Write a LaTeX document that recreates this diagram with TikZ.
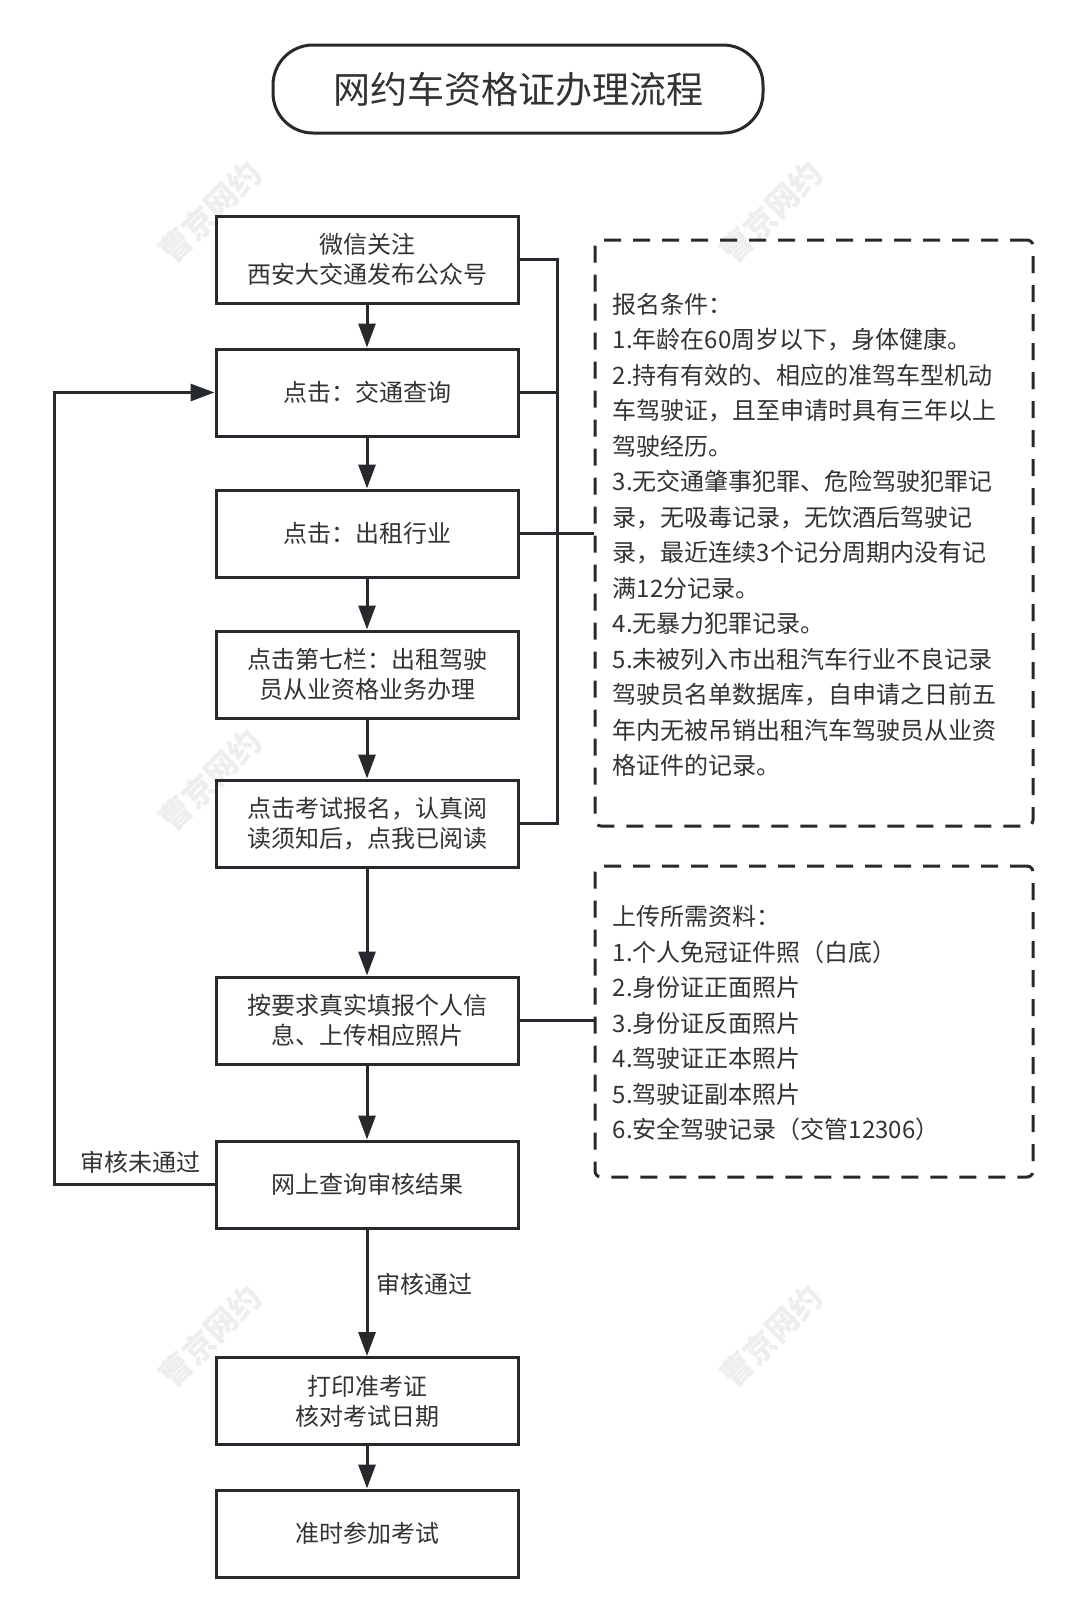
\documentclass[tikz,border=0pt]{standalone}
\usepackage{fontspec}
\setmainfont{Noto Sans CJK SC}
\usetikzlibrary{arrows.meta}
\definecolor{ln}{HTML}{262A2E}
\definecolor{tx}{HTML}{333333}
\begin{document}
\begin{tikzpicture}[x=0.5pt,y=-0.5pt,
  box/.style={draw=ln, line width=1.5pt, minimum width=151pt, minimum height=43.5pt, inner sep=0pt, align=center, text=tx, font=\fontsize{12}{15}\selectfont},
  dbox/.style={draw=ln, line width=1.5pt, dash pattern=on 8.5pt off 6pt, rounded corners=3pt, minimum width=219pt, inner sep=0pt},
  note/.style={anchor=west, align=left, inner sep=0pt, text=tx, font=\fontsize{12}{17.75}\selectfont},
  lbl/.style={inner sep=0pt, text=tx, font=\fontsize{12}{15}\selectfont},
  wm/.style={text=gray!13, rotate=45, inner sep=0pt, font=\fontsize{16}{16}\selectfont\bfseries},
  conn/.style={draw=ln, line width=1.5pt},
  arr/.style={conn, -{Triangle[length=12pt, width=8.5pt]}}]
\useasboundingbox (0,0) rectangle (1080,1623);
\fill[white] (0,0) rectangle (1080,1623);
% watermarks
\node[wm] (w1) at (210,212) {曹京网约};
\node[wm] (w2) at (771,212) {曹京网约};
\node[wm] (w3) at (210,780) {曹京网约};
\node[wm] (w4) at (210,1336) {曹京网约};
\node[wm] (w5) at (771,1336) {曹京网约};
% title
\node[draw=ln, line width=1.5pt, rounded corners=20pt, minimum width=245pt, minimum height=44pt, inner sep=0pt, text=tx, font=\fontsize{18.5}{20}\selectfont] (title) at (518,89) {网约车资格证办理流程};
% boxes
\node[box] (b1) at (367,259.5) {微信关注\\西安大交通发布公众号};
\node[box] (b2) at (367,392.5) {点击：交通查询};
\node[box] (b3) at (367,533.5) {点击：出租行业};
\node[box] (b4) at (367,674.5) {点击第七栏：出租驾驶\\员从业资格业务办理};
\node[box] (b5) at (367,823.5) {点击考试报名，认真阅\\读须知后，点我已阅读};
\node[box] (b6) at (367,1020.5) {按要求真实填报个人信\\息、上传相应照片};
\node[box] (b7) at (367,1184.5) {网上查询审核结果};
\node[box] (b8) at (367,1401) {打印准考证\\核对考试日期};
\node[box] (b9) at (367,1533.5) {准时参加考试};
% dashed notes
\node[dbox, minimum height=293pt] (d1) at (814,533) {};
\node[dbox, minimum height=155.5pt] (d2) at (814,1021.5) {};
\node[note] (t1) at ([xshift=9.5pt,yshift=-1pt]d1.west) {报名条件：\\1.年龄在60周岁以下，身体健康。\\2.持有有效的、相应的准驾车型机动\\车驾驶证，且至申请时具有三年以上\\驾驶经历。\\3.无交通肇事犯罪、危险驾驶犯罪记\\录，无吸毒记录，无饮酒后驾驶记\\录，最近连续3个记分周期内没有记\\满12分记录。\\4.无暴力犯罪记录。\\5.未被列入市出租汽车行业不良记录\\驾驶员名单数据库，自申请之日前五\\年内无被吊销出租汽车驾驶员从业资\\格证件的记录。};
\node[note] (t2) at ([xshift=9.5pt,yshift=-1pt]d2.west) {上传所需资料：\\1.个人免冠证件照（白底）\\2.身份证正面照片\\3.身份证反面照片\\4.驾驶证正本照片\\5.驾驶证副本照片\\6.安全驾驶记录（交管12306）};
% main arrows
\draw[arr] (b1) -- (b2);
\draw[arr] (b2) -- (b3);
\draw[arr] (b3) -- (b4);
\draw[arr] (b4) -- (b5);
\draw[arr] (b5) -- (b6);
\draw[arr] (b6) -- (b7);
\draw[arr] (b7) -- node[lbl, pos=0.43, anchor=west, xshift=4pt] (l2) {审核通过} (b8);
\draw[arr] (b8) -- (b9);
% bracket to note 1
\coordinate (br) at (557,0);
\draw[conn] (b1.east) -- (b1.east -| br) -- (b5.east -| br) -- (b5.east);
\draw[conn] (b2.east) -- (b2.east -| br);
\draw[conn] (b3.east) -- (b3.east -| d1.west);
\draw[conn] (b6.east) -- (b6.east -| d2.west);
% loop back
\coordinate (lp) at (54,0);
\draw[arr] (b7.west) -- (b7.west -| lp) -- (b2.west -| lp) -- (b2.west);
\node[lbl] (l1) at (140,1162) {审核未通过};
\end{tikzpicture}
\end{document}
